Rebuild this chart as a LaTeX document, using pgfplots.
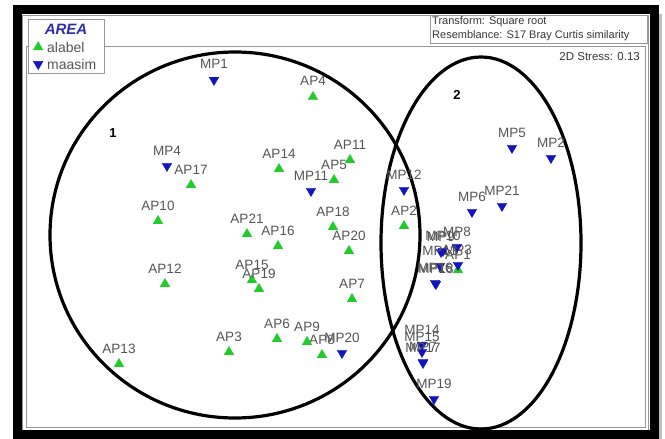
\documentclass[border=0pt]{standalone}
\usepackage{pgfplots}
\usepackage{pgfplotstable}
\pgfplotsset{compat=1.18}
\usepackage{fontspec}
\setmainfont{Liberation Sans}

\definecolor{agreen}{RGB}{30,205,40}
\definecolor{mblue}{RGB}{20,20,190}
\definecolor{lblgray}{RGB}{85,85,85}
\definecolor{framegray}{RGB}{150,150,150}
\definecolor{areablue}{RGB}{45,45,165}
\definecolor{hdrgray}{RGB}{55,55,55}

% MDS ordination scores (same units on both axes)
\pgfplotstableread{
x   y   lab
458 270 AP1
404 226 AP2
229 352 AP3
313 97  AP4
334 180 AP5
277 339 AP6
352 299 AP7
322 355 AP8
307 342 AP9
158 221 AP10
350 160 AP11
165 284 AP12
119 364 AP13
279 169 AP14
252 280 AP15
278 246 AP16
191 185 AP17
333 227 AP18
259 289 AP19
349 251 AP20
247 234 AP21
}\alabel

\pgfplotstableread{
x   y   lab
214 80  MP1
551 158 MP2
458 265 MP3
167 166 MP4
512 148 MP5
472 212 MP6
423 362 MP7
457 247 MP8
441 252 MP9
443 251 MP10
311 191 MP11
404 190 MP12
440 266 MP13
422 345 MP14
422 352 MP15
435 283 MP16
423 363 MP17
436 284 MP18
434 399 MP19
342 353 MP20
502 206 MP21
}\maasim

\begin{document}
\begin{tikzpicture}
\begin{axis}[
  scale only axis, width=665bp, height=439bp,
  xmin=0, xmax=665, ymin=0, ymax=439, y dir=reverse,
  hide axis, clip=false,
  every node near coord/.append style={anchor=base, yshift=11bp, inner sep=0pt,
    text=lblgray, font=\fontsize{13.5bp}{16bp}\selectfont},
  legend style={draw=none, fill=none, inner sep=0pt,
    at={(axis description cs:0.0466,0.9055)}, anchor=north west,
    font=\fontsize{14bp}{17bp}\selectfont,
    text=lblgray, row sep=7bp,
    nodes={inner sep=0pt, text height=10bp, text depth=0bp}},
  legend cell align=left,
  legend image code/.code={%
    \path[draw=none, fill=none] (0bp,-4bp) rectangle (16bp,4bp);
    \draw plot coordinates {(7bp,0bp)};},
]
\fill[white] (axis cs:0,0) rectangle (axis cs:665,439);
% plot frame
\draw[framegray, line width=0.8bp] (axis cs:22.5,15) rectangle (axis cs:648,431);
\draw[framegray, line width=0.8bp] (axis cs:26,46.5) rectangle (axis cs:645,427.5);

\addplot[only marks, mark=triangle*, mark size=5.5bp, color=agreen,
  nodes near coords, point meta=explicit symbolic]
  table[x=x, y=y, meta=lab] {\alabel};
\addlegendentry{alabel}
\addplot[only marks, mark=triangle*, mark size=5.5bp, color=mblue,
  mark options={rotate=180},
  nodes near coords, point meta=explicit symbolic]
  table[x=x, y=y, meta=lab] {\maasim};
\addlegendentry{maasim}

% group outlines
\draw[black, line width=3.2bp] (axis cs:235,235) ellipse [x radius=185bp, y radius=183bp];
\draw[black, line width=3.2bp] (axis cs:481,243) ellipse [x radius=100bp, y radius=186bp];
\node[font=\fontsize{13bp}{15bp}\selectfont\bfseries] at (axis cs:113,133) {1};
\node[font=\fontsize{13bp}{15bp}\selectfont\bfseries] at (axis cs:457,95) {2};

\node[anchor=east, inner sep=0pt, text=hdrgray, font=\fontsize{11.5bp}{13bp}\selectfont]
  at (axis cs:640,57) {2D Stress: 0.13};

% header box
\draw[framegray, line width=0.8bp, fill=white] (axis cs:430,15) rectangle (axis cs:647,43);
\node[anchor=west, inner sep=0pt, text=hdrgray, font=\fontsize{11bp}{13bp}\selectfont]
  at (axis cs:432,22) {Transform: Square root};
\node[anchor=west, inner sep=0pt, text=hdrgray, font=\fontsize{11bp}{13bp}\selectfont]
  at (axis cs:432,36) {Resemblance: S17 Bray Curtis similarity};

% legend box
\draw[framegray, line width=0.8bp, fill=white] (axis cs:28,19) rectangle (axis cs:104,73);
\node[text=areablue, font=\fontsize{15bp}{17bp}\selectfont\bfseries\itshape]
  at (axis cs:66,29) {AREA};

% outer frame
\draw[black, line width=9bp] (axis cs:17,10) rectangle (axis cs:654.5,434.5);
\fill[black!25] (axis cs:659,14) rectangle (axis cs:662,439);
\end{axis}
\end{tikzpicture}
\end{document}
